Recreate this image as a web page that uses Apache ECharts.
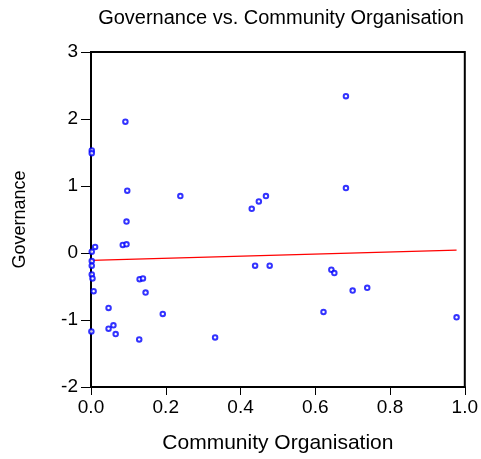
<!DOCTYPE html>
<html><head><meta charset="utf-8">
<script src="https://cdn.jsdelivr.net/npm/echarts@6/dist/echarts.min.js"></script>
<style>html,body{margin:0;padding:0;background:#fff}#c{width:481px;height:459px}</style>
</head><body><div id="c"></div>
<script>
var communityOrg = [0.092,0.002,0.002,0.097,0.239,0.095,0.002,0.011,0.085,0.095,0.002,0.002,0.002,0.004,0.007,0.130,0.139,0.146,0.047,0.192,0.060,0.047,0.066,0.001,0.129,0.682,0.682,0.468,0.449,0.430,0.439,0.478,0.643,0.651,0.622,0.332,0.700,0.739,0.978];
var governance   = [1.96,1.53,1.49,0.93,0.85,0.47,0.02,0.09,0.12,0.13,-0.12,-0.19,-0.32,-0.38,-0.57,-0.39,-0.38,-0.59,-0.82,-0.91,-1.08,-1.13,-1.21,-1.17,-1.29,2.34,0.97,0.85,0.77,0.66,-0.19,-0.19,-0.25,-0.30,-0.88,-1.26,-0.56,-0.52,-0.96];
var fitX = [0, 0.978];
var fitY = [-0.11, 0.044];
var xTicks = [0.0,0.2,0.4,0.6,0.8,1.0];
var yTicks = [-2,-1,0,1,2,3];

var FONT = '"Liberation Sans", Arial, Helvetica, sans-serif';
var chart = echarts.init(document.getElementById('c'), null, {renderer:'canvas'});
var pts = communityOrg.map(function(x,i){return [x, governance[i]];});
var fit = fitX.map(function(x,i){return [x, fitY[i]];});
chart.setOption({
  animation:false,
  backgroundColor:'#fff',
  graphic:[{type:'text', x:281, y:18, style:{text:'Governance vs. Community Organisation', font:'20px '+FONT, fill:'#000', textAlign:'center', textVerticalAlign:'middle'}}],
  grid:{left:91, right:12.5, top:52, bottom:68, show:true, borderColor:'#000', borderWidth:2, backgroundColor:'transparent'},
  xAxis:{type:'value', min:xTicks[0], max:xTicks[xTicks.length-1], interval:0.2,
    name:'Community Organisation', nameLocation:'middle', nameGap:46,
    nameTextStyle:{fontFamily:FONT, fontSize:21, color:'#000'},
    axisLine:{show:true, onZero:false, lineStyle:{color:'#000', width:2}},
    axisTick:{show:true, inside:false, length:8, lineStyle:{color:'#000', width:1}},
    axisLabel:{margin:11, fontFamily:FONT, fontSize:19, color:'#000', formatter:function(v){return v.toFixed(1);}},
    splitLine:{show:false}},
  yAxis:{type:'value', min:yTicks[0], max:yTicks[yTicks.length-1], interval:1,
    name:'Governance', nameLocation:'middle', nameGap:62,
    nameTextStyle:{fontFamily:FONT, fontSize:18, color:'#000'},
    axisLine:{show:true, onZero:false, lineStyle:{color:'#000', width:2}},
    axisTick:{show:true, inside:false, length:10, lineStyle:{color:'#000', width:1}},
    axisLabel:{margin:13, fontFamily:FONT, fontSize:19, color:'#000'},
    splitLine:{show:false}},
  series:[
    {type:'line', data:fit, showSymbol:false, symbol:'none', lineStyle:{color:'#ff0000', width:1.2}, z:2},
    {type:'scatter', data:pts, symbol:'emptyCircle', symbolSize:4.5, itemStyle:{color:'#0000ff', borderColor:'#0000ff', borderWidth:1.1}, z:3}
  ]
});
</script></body></html>
